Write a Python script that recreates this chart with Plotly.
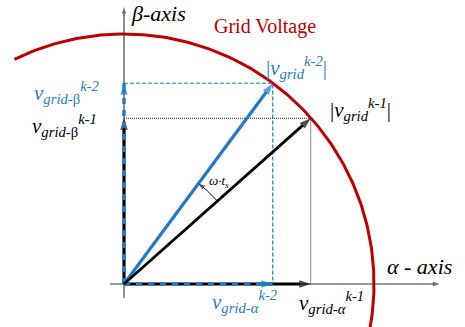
import numpy as np
import plotly.graph_objects as go

# ---- data (normalised to |v_grid| = 1) ----
vector_names = ["k-2", "k-1"]
v_alpha = [0.595, 0.747]      # alpha components
v_beta = [0.803, 0.663]       # beta components
vector_colors = ["#1f7bc8", "#000000"]
grid_radius = 1.0
arc_start_deg = 116
arc_end_deg = -12

fig = go.Figure()

def line(xs, ys, color, width, dash="solid", head=0):
    xs = list(xs); ys = list(ys)
    sizes = [0] * (len(xs) - 1) + [head]
    fig.add_trace(go.Scatter(
        x=xs, y=ys, mode="lines+markers" if head else "lines", hoverinfo="skip",
        line=dict(color=color, width=width, dash=dash),
        marker=dict(symbol="arrow", size=sizes, angleref="previous", color=color,
                    line=dict(width=0))))

# Grid voltage circle (arc)
th = np.radians(np.linspace(arc_start_deg, arc_end_deg, 200))
line(grid_radius * np.cos(th), grid_radius * np.sin(th), "#c00000", 3)

# projection lines
line([0, v_alpha[0], v_alpha[0]], [v_beta[0], v_beta[0], 0], vector_colors[0], 1.2, "4px,2px")
line([0, v_alpha[1], v_alpha[1]], [v_beta[1], v_beta[1], 0], "#222222", 1, "1px,1px")

# axes
ax_col = "#333333"
line([-0.056, 1.262], [0, 0], ax_col, 1.1, head=7)
line([0, 0], [-0.056, 1.108], ax_col, 1.1, head=7)

# black solid components underneath
line([0, v_alpha[1]], [0, 0], "#000000", 3.2, head=12)
line([0, 0], [0, v_beta[1]], "#000000", 3.2, head=12)
# blue dashed components on top
line([0, v_alpha[0] - 0.03], [0, 0], vector_colors[0], 3.4, "6px,6px")
line([0, 0], [0, v_beta[0] - 0.03], vector_colors[0], 3.4, "6px,6px")
line([v_alpha[0] - 0.04, v_alpha[0]], [0, 0], vector_colors[0], 3.4, head=12)
line([0, 0], [v_beta[0] - 0.04, v_beta[0]], vector_colors[0], 3.4, head=12)

# main vectors
line([0, v_alpha[0]], [0, v_beta[0]], vector_colors[0], 3.2, head=12)
line([0, v_alpha[1]], [0, v_beta[1]], vector_colors[1], 2.8, head=12)

# angle arc omega*ts
a1 = np.arctan2(v_beta[1], v_alpha[1])
a2 = np.arctan2(v_beta[0], v_alpha[0])
ta = np.linspace(a1, a2, 30)
r_arc = 0.5
line(r_arc * np.cos(ta), r_arc * np.sin(ta), "#000000", 1, head=7)

serif = "'Liberation Serif', 'Times New Roman', Times, serif"
def label(x, y, txt, color, size):
    fig.add_annotation(x=x, y=y, xref="x", yref="y", text=txt, showarrow=False,
                       font=dict(family=serif, size=size, color=color), xanchor="center", yanchor="middle")

label(0.136, 1.084, "<i>β-axis</i>", "#000000", 22)
label(0.562, 1.03, "Grid Voltage", "#c00000", 20)
label(1.18, 0.07, "<i>α - axis</i>", "#000000", 22)
label(0.688, 0.868, "|<i>v<sub>grid</sub><sup>k-2</sup></i>|", vector_colors[0], 21)
label(0.944, 0.70, "|<i>v<sub>grid</sub><sup>k-1</sup></i>|", "#000000", 21)
label(-0.228, 0.766, "<i>v<sub>grid-</sub></i><sub>β</sub><sup><i>k-2</i></sup>", vector_colors[0], 21)
label(-0.24, 0.636, "<i>v<sub>grid-</sub></i><sub>β</sub><sup><i>k-1</i></sup>", "#000000", 21)
label(0.484, -0.07, "<i>v<sub>grid-α</sub><sup>k-2</sup></i>", vector_colors[0], 21)
label(0.83, -0.072, "<i>v<sub>grid-α</sub><sup>k-1</sup></i>", "#000000", 21)
label(0.378, 0.41, "<i>ω·t<sub>s</sub></i>", "#000000", 13)

fig.update_layout(width=465, height=327, margin=dict(l=0, r=0, t=0, b=0),
                  paper_bgcolor="white", plot_bgcolor="white", showlegend=False,
                  xaxis=dict(range=[-0.496, 1.364], visible=False, fixedrange=True),
                  yaxis=dict(range=[-0.172, 1.136], visible=False, fixedrange=True))
fig.write_html("out.html")
